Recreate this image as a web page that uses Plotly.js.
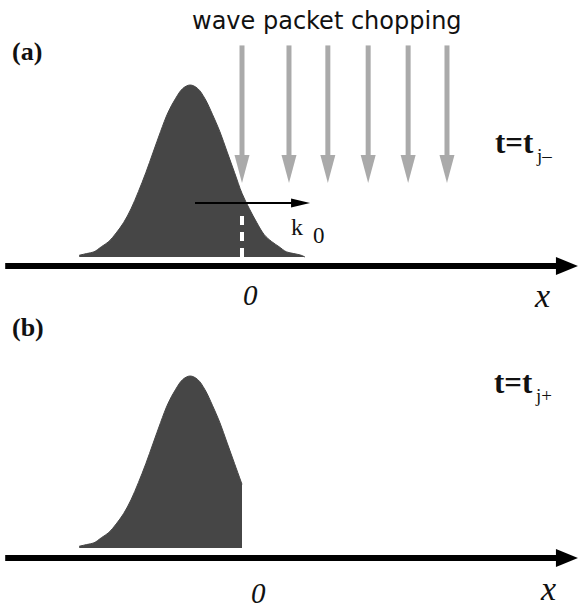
<!DOCTYPE html>
<html><head><meta charset="utf-8">
<script src="https://cdn.plot.ly/plotly-3.0.1.min.js"></script>
<style>html,body{margin:0;padding:0;background:#fff;}#chart{width:579px;height:608px;}</style>
</head><body><div id="chart"></div>
<script>
// ---- data (x in packet-width units, 0 = chopping point; amplitude relative to peak) ----
const packetX = [-4.4,-4.2,-4.0,-3.8,-3.6,-3.4,-3.2,-3.0,-2.8,-2.6,-2.4,-2.2,-2.0,-1.8,-1.6,-1.4,
                 -1.2,-1.0,-0.8,-0.6,-0.4,-0.2,0.0,0.2,0.4,0.6,0.8,1.0,1.2,1.4,1.6,1.7];
const packetA = [0.01,0.02,0.03,0.06,0.09,0.14,0.20,0.28,0.38,0.49,0.61,0.73,0.84,0.92,0.98,1.00,
                 0.98,0.92,0.83,0.73,0.61,0.49,0.37,0.28,0.20,0.13,0.09,0.06,0.03,0.02,0.01,0.0];
const chopX = 0;
const chopArrowX = [0, 1.27, 2.32, 3.41, 4.49, 5.54];
const chopArrowTop = 1.23;
const chopArrowTip = 0.43;
const k0Start = -1.27, k0End = 1.84, k0Level = 0.314;
const dashTop = 0.256;
const axisStart = -6.4, axisEnd = 9.08, axisLevelA = -0.052, axisLevelB = -0.058;

// ---- scale helpers (pixels per data unit, used only for arrowhead sizes) ----
const PX = 37, PY = 172;
const xRange = [-242/PX, 337/PX];
const yRangeA = [(257-608)/PY, 257/PY];
const yRangeB = [(548-608)/PY, 548/PY];

function arrow(x0,y0,x1,y1,o){
  const dxp=(x1-x0)*PX, dyp=(y1-y0)*PY, L=Math.hypot(dxp,dyp);
  const ux=dxp/L, uy=dyp/L, px=-uy, py=ux;
  const bx=x1-ux*o.headLen/PX, by=y1-uy*o.headLen/PY;
  return [
    {x:[x0, bx+ux*1.5/PX], y:[y0, by+uy*1.5/PY], mode:'lines', line:{color:o.color,width:o.width}, yaxis:o.yaxis, hoverinfo:'skip'},
    {x:[x1, bx+px*o.headHalf/PX, bx-px*o.headHalf/PX, x1], y:[y1, by+py*o.headHalf/PY, by-py*o.headHalf/PY, y1],
     mode:'lines', fill:'toself', fillcolor:o.color, line:{width:0,color:o.color}, yaxis:o.yaxis, hoverinfo:'skip'}
  ];
}

const fillCol = '#464646', grayCol = '#aaaaaa';
const traces = [];
traces.push({x:packetX, y:packetA, mode:'lines', line:{color:fillCol,width:1,shape:'spline'}, fill:'tozeroy', fillcolor:fillCol, yaxis:'y', hoverinfo:'skip'});
const bX = packetX.filter(v=>v<=chopX), bA = packetA.slice(0,bX.length);
traces.push({x:bX, y:bA, mode:'lines', line:{color:fillCol,width:1,shape:'spline'}, fill:'tozeroy', fillcolor:fillCol, yaxis:'y2', hoverinfo:'skip'});
traces.push({x:[chopX,chopX], y:[0,dashTop], mode:'lines', line:{color:'#ffffff',width:4,dash:'9px,7px'}, yaxis:'y', hoverinfo:'skip'});
chopArrowX.forEach(x=>traces.push(...arrow(x,chopArrowTop,x,chopArrowTip,{color:grayCol,width:5,headLen:28,headHalf:7.5,yaxis:'y'})));
traces.push(...arrow(k0Start,k0Level,k0End,k0Level,{color:'#000',width:2,headLen:19,headHalf:4.5,yaxis:'y'}));
traces.push(...arrow(axisStart,axisLevelA,axisEnd,axisLevelA,{color:'#000',width:6,headLen:22,headHalf:9,yaxis:'y'}));
traces.push(...arrow(axisStart,axisLevelB,axisEnd,axisLevelB,{color:'#000',width:6,headLen:22,headHalf:9,yaxis:'y2'}));

const W=579,H=608;
const serif = '"Liberation Serif", "Times New Roman", serif';
function ann(text,px,py,size,opts){
  opts = opts||{};
  return {text, x:px/W, y:1-py/H, xref:'paper', yref:'paper', showarrow:false,
          xanchor:opts.xanchor||'center', yanchor:'middle',
          font:{size, family:opts.family||serif, color:opts.color||'#111',
                weight:opts.weight||'normal', style:opts.style||'normal'}};
}
const layout = {
  width:W, height:H, margin:{l:0,r:0,t:0,b:0}, showlegend:false,
  paper_bgcolor:'#fff', plot_bgcolor:'#fff',
  xaxis:{range:xRange, visible:false, fixedrange:true},
  yaxis:{range:yRangeA, visible:false, fixedrange:true, domain:[0,1]},
  yaxis2:{range:yRangeB, visible:false, fixedrange:true, overlaying:'y'},
  annotations:[
    ann('wave packet chopping',327,21,24,{family:'"DejaVu Sans", sans-serif',color:'#111'}),
    ann('(a)',10,52,26,{xanchor:'left',weight:'bold'}),
    ann('(b)',10,327,26,{xanchor:'left',weight:'bold'}),
    ann('t=t',493,142,31,{xanchor:'left',weight:'bold'}),
    ann('j–',534,156,19,{xanchor:'left'}),
    ann('t=t',492,382,31,{xanchor:'left',weight:'bold'}),
    ann('j+',533,395,19,{xanchor:'left'}),
    ann('0',250,295,29,{style:'italic'}),
    ann('x',542,295,34,{style:'italic'}),
    ann('0',258,593,29,{style:'italic'}),
    ann('x',548,588,34,{style:'italic'}),
    ann('k',297,227,24),
    ann('0',319,235,23)
  ]
};
Plotly.newPlot('chart', traces, layout, {staticPlot:true, displayModeBar:false});
</script>
</body></html>
